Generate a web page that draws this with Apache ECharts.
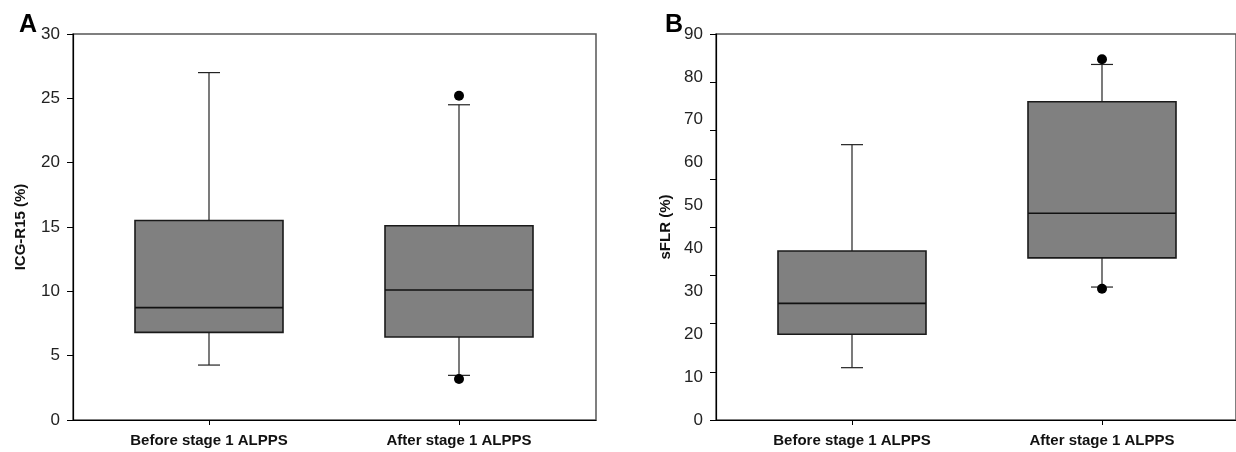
<!DOCTYPE html>
<html>
<head>
<meta charset="utf-8">
<script src="https://cdn.jsdelivr.net/npm/echarts@6/dist/echarts.min.js"></script>
<style>
html,body{margin:0;padding:0;background:#fff;}
#chart{width:1236px;height:452px;}
</style>
</head>
<body>
<div id="chart"></div>
<script>
// ---- data ----
var categories = ['Before stage 1 ALPPS', 'After stage 1 ALPPS'];
// panel A: ICG-R15 (%)  [min, Q1, median, Q3, max]
var icgBefore = [4.27, 6.81, 8.73, 15.5, 27.0];
var icgAfter  = [3.47, 6.45, 10.1, 15.1, 24.5];
var icgOutliersAfter = [25.2, 3.19];
// panel B: sFLR (%)  [min, Q1, median, Q3, max]
var sflrBefore = [12.2, 20.0, 27.2, 39.4, 64.2];
var sflrAfter  = [31.0, 37.8, 48.2, 74.2, 82.9];
var sflrOutliersAfter = [84.1, 30.6];
var icgTicks = [0, 30, 5];    // min, max, interval
var sflrTicks = [0, 90, 10];
var sflrTickMarkInterval = 11.25;

var FONT = "'Liberation Sans', Arial, sans-serif";

function boxItems(arrs) {
  return arrs.map(function (a, i) { return [i].concat(a); });
}
function outlierItems(catIdx, vals) {
  return vals.map(function (v) { return [catIdx, v]; });
}

function renderBox(params, api) {
  var x = api.value(0);
  var lo = api.coord([x, api.value(1)]);
  var q1 = api.coord([x, api.value(2)]);
  var md = api.coord([x, api.value(3)]);
  var q3 = api.coord([x, api.value(4)]);
  var hi = api.coord([x, api.value(5)]);
  var band = api.size([1, 0])[0];
  var bw = band * 0.592;
  var cw = band * 0.088;
  var cx = lo[0];
  var lineStyle = { stroke: '#222', lineWidth: 1.2, fill: null };
  return {
    type: 'group',
    children: [
      { type: 'line', shape: { x1: cx, y1: hi[1], x2: cx, y2: q3[1] }, style: lineStyle },
      { type: 'line', shape: { x1: cx, y1: q1[1], x2: cx, y2: lo[1] }, style: lineStyle },
      { type: 'line', shape: { x1: cx - cw / 2, y1: hi[1], x2: cx + cw / 2, y2: hi[1] }, style: lineStyle },
      { type: 'line', shape: { x1: cx - cw / 2, y1: lo[1], x2: cx + cw / 2, y2: lo[1] }, style: lineStyle },
      { type: 'rect', shape: { x: cx - bw / 2, y: q3[1], width: bw, height: q1[1] - q3[1] },
        style: { fill: '#808080', stroke: '#1a1a1a', lineWidth: 1.6 } },
      { type: 'line', shape: { x1: cx - bw / 2, y1: md[1], x2: cx + bw / 2, y2: md[1] },
        style: { stroke: '#111', lineWidth: 1.6 } }
    ]
  };
}

var labelStyle = { color: '#222', fontFamily: FONT, fontSize: 17 };
var nameStyle = { color: '#111', fontFamily: FONT, fontSize: 15, fontWeight: 'bold' };
var catLabel = { interval: 0, margin: 13, color: '#111', fontFamily: FONT, fontSize: 15, fontWeight: 'bold' };
var letterStyle = { fontFamily: FONT, fontSize: 25, fontWeight: 'bold', color: '#000' };

var chart = echarts.init(document.getElementById('chart'), null, { renderer: 'canvas' });
chart.setOption({
  animation: false,
  backgroundColor: '#fff',
  title: [
    { text: 'A', left: 19, top: 13, padding: 0, textStyle: letterStyle },
    { text: 'B', left: 665, top: 13, padding: 0, textStyle: letterStyle }
  ],
  grid: [
    { left: 73, top: 34, width: 523, height: 386, show: true, borderColor: '#555', borderWidth: 1.5, backgroundColor: 'transparent' },
    { left: 84, top: 34, width: 500, height: 386 },
    { left: 716, top: 34, width: 540, height: 386, show: true, borderColor: '#555', borderWidth: 1.5, backgroundColor: 'transparent' },
    { left: 727, top: 34, width: 500, height: 386 }
  ],
  xAxis: [
    { gridIndex: 0, type: 'value', min: 0, max: 1, axisLine: { show: true, onZero: false, lineStyle: { color: '#000', width: 1.2 } },
      axisTick: { show: false }, axisLabel: { show: false }, splitLine: { show: false } },
    { gridIndex: 1, type: 'category', data: categories, axisLine: { show: false },
      axisTick: { show: true, alignWithLabel: true, length: 5, lineStyle: { color: '#000' } },
      axisLabel: catLabel, splitLine: { show: false } },
    { gridIndex: 2, type: 'value', min: 0, max: 1, axisLine: { show: true, onZero: false, lineStyle: { color: '#000', width: 1.2 } },
      axisTick: { show: false }, axisLabel: { show: false }, splitLine: { show: false } },
    { gridIndex: 3, type: 'category', data: categories, axisLine: { show: false },
      axisTick: { show: true, alignWithLabel: true, length: 5, lineStyle: { color: '#000' } },
      axisLabel: catLabel, splitLine: { show: false } }
  ],
  yAxis: [
    { gridIndex: 0, type: 'value', min: icgTicks[0], max: icgTicks[1], interval: icgTicks[2],
      axisLine: { show: true, onZero: false, lineStyle: { color: '#000', width: 1.2 } },
      axisTick: { show: true, length: 6, lineStyle: { color: '#000' } },
      axisLabel: Object.assign({ margin: 13 }, labelStyle), splitLine: { show: false },
      name: 'ICG-R15 (%)', nameLocation: 'middle', nameRotate: 90, nameGap: 45, nameTextStyle: nameStyle },
    { gridIndex: 1, type: 'value', min: icgTicks[0], max: icgTicks[1], show: false },
    { gridIndex: 2, type: 'value', min: sflrTicks[0], max: sflrTicks[1], interval: sflrTicks[2],
      axisLine: { show: true, onZero: false, lineStyle: { color: '#000', width: 1.2 } },
      axisTick: { show: false },
      axisLabel: Object.assign({ margin: 13 }, labelStyle), splitLine: { show: false },
      name: 'sFLR (%)', nameLocation: 'middle', nameRotate: 90, nameGap: 43, nameTextStyle: nameStyle },
    { gridIndex: 2, type: 'value', min: sflrTicks[0], max: sflrTicks[1], interval: sflrTickMarkInterval, position: 'left', offset: 0,
      axisLine: { show: false }, axisTick: { show: true, length: 6, lineStyle: { color: '#000' } },
      axisLabel: { show: false }, splitLine: { show: false } },
    { gridIndex: 3, type: 'value', min: sflrTicks[0], max: sflrTicks[1], show: false }
  ],
  series: [
    { type: 'custom', xAxisIndex: 1, yAxisIndex: 1, renderItem: renderBox,
      encode: { x: 0, y: [1, 2, 3, 4, 5] }, data: boxItems([icgBefore, icgAfter]), z: 3 },
    { type: 'scatter', xAxisIndex: 1, yAxisIndex: 1, symbol: 'circle', symbolSize: 10,
      itemStyle: { color: '#000', opacity: 1 }, data: outlierItems(1, icgOutliersAfter), z: 4 },
    { type: 'custom', xAxisIndex: 3, yAxisIndex: 4, renderItem: renderBox,
      encode: { x: 0, y: [1, 2, 3, 4, 5] }, data: boxItems([sflrBefore, sflrAfter]), z: 3 },
    { type: 'scatter', xAxisIndex: 3, yAxisIndex: 4, symbol: 'circle', symbolSize: 10,
      itemStyle: { color: '#000', opacity: 1 }, data: outlierItems(1, sflrOutliersAfter), z: 4 }
  ]
});
</script>
</body>
</html>
